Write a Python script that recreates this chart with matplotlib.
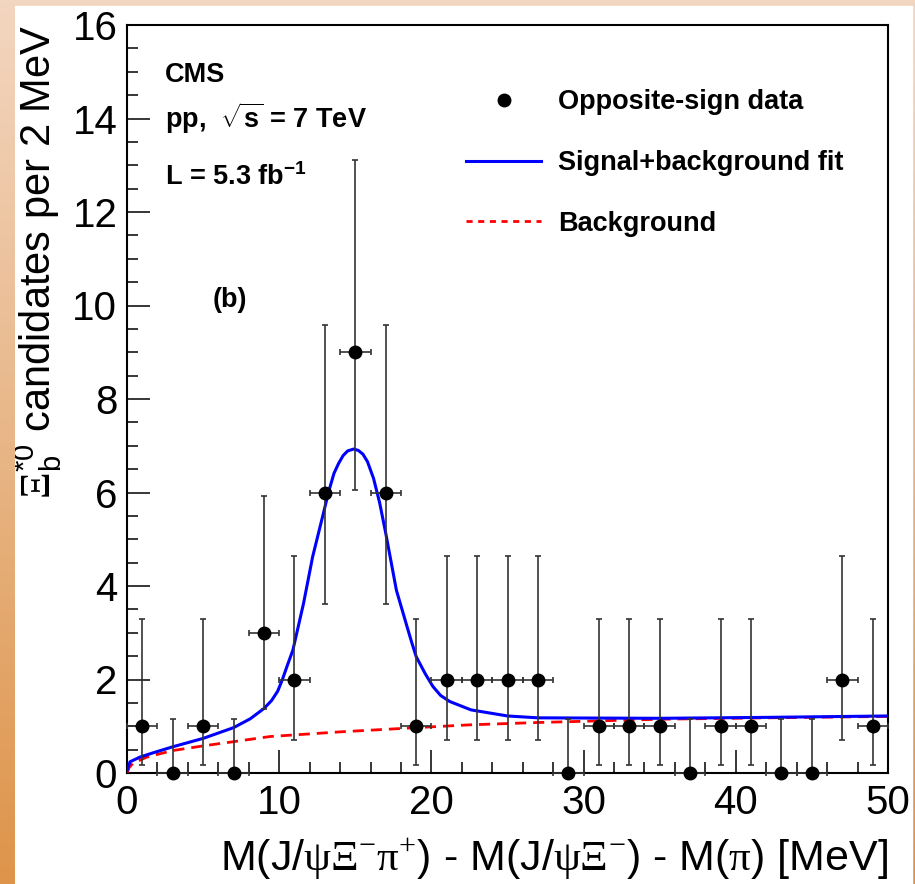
import numpy as np
import matplotlib
matplotlib.use("Agg")
import matplotlib.pyplot as plt
from matplotlib.colors import LinearSegmentedColormap
from matplotlib.lines import Line2D
from matplotlib.patches import Rectangle

plt.rcParams['font.family'] = ['Liberation Sans', 'DejaVu Sans']
plt.rcParams['mathtext.fontset'] = 'custom'
plt.rcParams['mathtext.rm'] = 'Liberation Serif'
plt.rcParams['mathtext.sf'] = 'Liberation Sans'
plt.rcParams['mathtext.it'] = 'Liberation Sans:italic'
plt.rcParams['mathtext.bf'] = 'Liberation Sans:bold'

# binned data (2 MeV bins)
bin_centers = [1, 3, 5, 7, 9, 11, 13, 15, 17, 19, 21, 23, 25, 27, 29,
               31, 33, 35, 37, 39, 41, 43, 45, 47, 49]
counts = [1, 0, 1, 0, 3, 2, 6, 9, 6, 1, 2, 2, 2, 2, 0,
          1, 1, 1, 0, 1, 1, 0, 0, 2, 1]
err_low = [0.83, 0, 0.83, 0, 1.63, 1.29, 2.38, 2.94, 2.38, 0.83, 1.29, 1.29, 1.29, 1.29, 0,
           0.83, 0.83, 0.83, 0, 0.83, 0.83, 0, 0, 1.29, 0.83]
err_high = [2.30, 1.15, 2.30, 1.15, 2.92, 2.64, 3.58, 4.11, 3.58, 2.30, 2.64, 2.64, 2.64, 2.64, 1.15,
            2.30, 2.30, 2.30, 1.15, 2.30, 2.30, 1.15, 1.15, 2.64, 2.30]
bin_halfwidth = [1.0] * len(bin_centers)

# signal+background fit curve
fit_x = [0, 0.2, 0.85, 1.7, 3.0, 5.0, 7.0, 8.1, 9.0, 9.5, 9.9, 10.2, 10.5, 10.9, 11.6, 12.2,
         12.9, 13.25, 13.6, 13.9, 14.2, 14.5, 14.9, 15.2, 15.5, 15.8, 16.2, 16.6, 17.0, 17.7,
         18.4, 18.7, 19.0, 19.6, 20.1, 20.6, 21.2, 22.6, 25.0, 27.0, 35.0, 42.0, 50.0]
fit_y = [0.05, 0.24, 0.34, 0.43, 0.56, 0.74, 0.97, 1.16, 1.38, 1.55, 1.75, 1.99, 2.27, 2.63,
         3.63, 4.63, 5.55, 6.02, 6.41, 6.62, 6.79, 6.89, 6.93, 6.90, 6.82, 6.66, 6.30, 5.78,
         5.13, 3.91, 3.13, 2.80, 2.49, 2.12, 1.85, 1.66, 1.53, 1.35, 1.22, 1.18, 1.17, 1.19, 1.22]

# background-only curve
bkg_x = [0, 0.15, 0.4, 1.3, 3.0, 5.0, 7.0, 9.4, 14.0, 19.0, 22.5, 27.0, 35.0, 42.0, 50.0]
bkg_y = [0.0, 0.12, 0.21, 0.34, 0.48, 0.58, 0.67, 0.78, 0.88, 0.97, 1.03, 1.08, 1.15, 1.18, 1.21]

W, H = 915, 884
fig = plt.figure(figsize=(W / 100, H / 100), dpi=100)

# slide-style orange background
grad = LinearSegmentedColormap.from_list("slide", ["#f3d6c0", "#e8b687", "#de944a"])
g = np.linspace(0, 1, 256).reshape(-1, 1)
bg = fig.add_axes([0, 0, 1, 1], zorder=-10)
bg.imshow(g, aspect='auto', cmap=grad, extent=[0, 1, 0, 1], origin='upper')
bg.axis('off')
fig.add_artist(Rectangle((15 / W, 0), (912 - 15) / W, (H - 6) / H,
                         transform=fig.transFigure, color='white', zorder=-5))

ax = fig.add_axes([127 / W, 1 - 773 / H, (888 - 127) / W, (773 - 25) / H])
ax.set_facecolor('white')

ax.plot(bkg_x, bkg_y, color='#ff0000', lw=2.0, dashes=(4, 2.5), zorder=3)
ax.plot(fit_x, fit_y, color='#0000ff', lw=2.2, zorder=4, solid_joinstyle='round')

eb = ax.errorbar(bin_centers, counts, yerr=[err_low, err_high], xerr=bin_halfwidth,
                 fmt='o', color='black', ms=9, ecolor='#333333', elinewidth=1.2,
                 capsize=2.5, capthick=1.2, zorder=5)
for art in eb.lines[0:1] + tuple(eb.lines[1]) + tuple(eb.lines[2]):
    art.set_clip_on(False)

ax.set_xlim(0, 50)
ax.set_ylim(0, 16)
ax.set_xticks(range(0, 51, 10))
ax.set_xticks(range(0, 51, 2), minor=True)
ax.set_yticks(range(0, 17, 2))
ax.set_yticks(np.arange(0, 16.01, 0.5), minor=True)
ax.tick_params(which='both', direction='in', top=False, right=False, width=1.1,
               labelsize=29, colors='black')
ax.tick_params(which='major', length=16.5)
ax.tick_params(which='minor', length=8)
ax.tick_params(axis='y', pad=7)
ax.tick_params(axis='x', pad=8)
for s in ax.spines.values():
    s.set_linewidth(1.5)

ax.set_xlabel(r"M(J/$\mathrm{\psi\Xi}^{-}\mathrm{\pi}^{+}$) - M(J/$\mathrm{\psi\Xi}^{-}$) - M($\mathrm{\pi}$) [MeV]",
              fontsize=31, loc='right')
ax.xaxis.set_label_coords(1.0, -0.085)
ax.set_ylabel(r"$\mathrm{\Xi}_{\mathsf{b}}^{\mathsf{*0}}$ candidates per 2 MeV", fontsize=30, loc='top')
ax.yaxis.set_label_coords(-0.083, 1.0)

ax.text(0.05, 0.924, "CMS", transform=ax.transAxes, fontsize=19.5, fontweight='bold', va='baseline')
ax.text(0.05, 0.862, r"pp,  $\sqrt{\mathbf{s}}$ = 7 TeV", transform=ax.transAxes,
        fontsize=19.5, fontweight='bold', va='baseline')
ax.text(0.05, 0.786, r"L = 5.3 fb$^{\mathbf{-1}}$", transform=ax.transAxes,
        fontsize=19.5, fontweight='bold', va='baseline')
ax.text(0.112, 0.623, "(b)", transform=ax.transAxes, fontsize=19.5, fontweight='bold', va='baseline')

handles = [
    Line2D([], [], marker='o', ls='none', color='black', ms=9),
    Line2D([], [], color='#0000ff', lw=2.2),
    Line2D([], [], color='#ff0000', lw=2.0, dashes=(2.2, 2)),
]
labels = ["Opposite-sign data", "Signal+background fit", "Background"]
leg = ax.legend(handles, labels, loc='upper left', bbox_to_anchor=(0.4455, 0.914),
                frameon=False, borderpad=0, borderaxespad=0, handlelength=2.78,
                handletextpad=0.63, labelspacing=1.28, prop={'size': 19.5, 'weight': 'bold'})

# the slide border covers the edge of the y title
strip = fig.add_axes([0, 0, 15 / W, 1], zorder=10)
strip.imshow(g, aspect='auto', cmap=grad, extent=[0, 1, 0, 1], origin='upper')
strip.axis('off')

fig.savefig("out.png", dpi=100)
